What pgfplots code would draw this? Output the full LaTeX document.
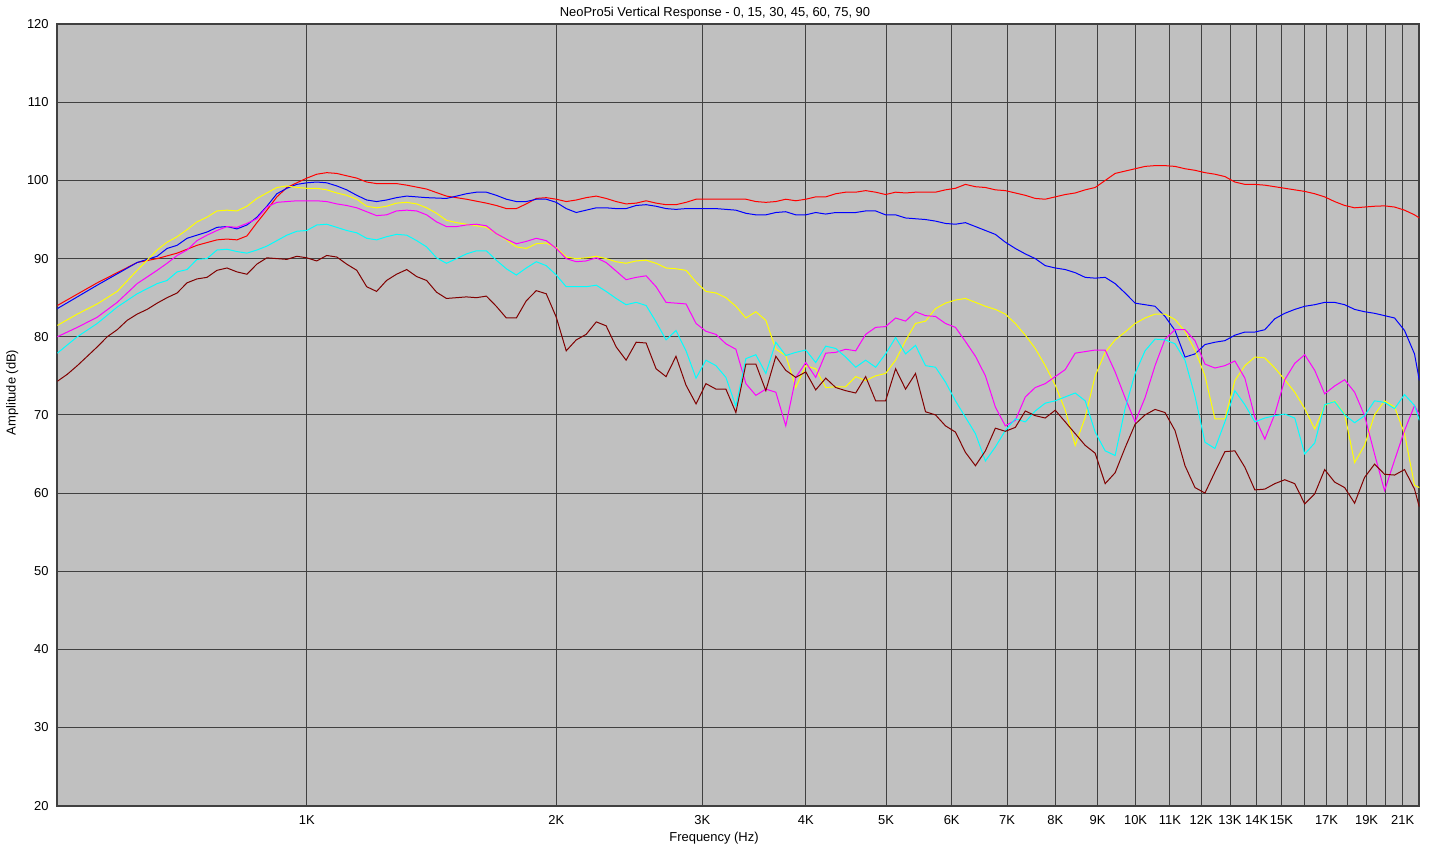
\documentclass[border=0pt]{standalone}
\usepackage{fontspec}
\setmainfont{Liberation Sans}
\usepackage{pgfplots}
\pgfplotsset{compat=1.18}
\definecolor{plotbg}{HTML}{C0C0C0}
\definecolor{gridc}{HTML}{404040}
\definecolor{maroonc}{HTML}{800000}
\definecolor{yel}{HTML}{FFFF00}
\definecolor{mag}{HTML}{FF00FF}
\definecolor{cya}{HTML}{00FFFF}
\definecolor{redc}{HTML}{FF0000}
\definecolor{bluec}{HTML}{0000FF}
\begin{document}
\begin{tikzpicture}[x=1bp,y=1bp]
\useasboundingbox[fill=white] (0,0) rectangle (1430,848);
\begin{axis}[
  at={(57.3bp,42.4bp)}, anchor=south west,
  scale only axis, width=1362bp, height=781.4bp,
  xmode=log, xmin=500, xmax=22000, ymin=20, ymax=120,
  axis background/.style={fill=plotbg},
  axis line style={draw=gridc, line width=2bp},
  xtick={1000,2000,3000,4000,5000,6000,7000,8000,9000,10000,11000,12000,13000,14000,15000,16000,17000,18000,19000,20000,21000},
  xticklabels={1K,2K,3K,4K,5K,6K,7K,8K,9K,10K,11K,12K,13K,14K,15K,,17K,,19K,,21K},
  ytick={20,30,40,50,60,70,80,90,100,110,120},
  minor tick num=0,
  xminorgrids=false,
  grid=major,
  major grid style={draw=gridc, line width=1bp},
  major tick length=0pt,
  /pgf/number format/assume math mode=true,
  tick label style={font=\fontsize{13}{15}\selectfont},
  xticklabel style={anchor=base, inner sep=0pt, yshift=-19bp},
  yticklabel style={anchor=east, inner sep=0pt, xshift=-8.5bp},
  clip=true,
]
% red (0 deg)
\addplot[redc, line width=1bp] coordinates {(500,84.0)(558.6,86.9)(624.2,89.5)(659.8,90.0)(697.4,90.7)(737.1,91.7)(779.2,92.4)(801.1,92.5)(823.6,92.4)(846.7,92.9)(870.6,94.6)(895.0,96.2)(920.2,97.9)(946.1,99.1)(972.7,99.7)(1000,100.3)(1028,100.8)(1057,101.0)(1087,100.9)(1117,100.6)(1149,100.3)(1181,99.8)(1214,99.6)(1248,99.6)(1283,99.6)(1320,99.4)(1395,98.9)(1474,98.0)(1558,97.6)(1647,97.1)(1693,96.8)(1741,96.4)(1790,96.4)(1840,97.0)(1892,97.7)(1945,97.8)(2000,97.6)(2056,97.3)(2114,97.5)(2173,97.8)(2235,98.0)(2297,97.7)(2362,97.3)(2428,97.0)(2497,97.1)(2567,97.4)(2639,97.1)(2713,96.9)(2789,96.9)(2868,97.2)(2949,97.6)(3031,97.6)(3117,97.6)(3204,97.6)(3294,97.6)(3387,97.6)(3482,97.3)(3580,97.2)(3681,97.3)(3784,97.6)(3891,97.4)(4000,97.6)(4112,97.9)(4228,97.9)(4347,98.3)(4469,98.5)(4595,98.5)(4724,98.7)(4857,98.5)(4993,98.2)(5134,98.5)(5278,98.4)(5426,98.5)(5579,98.5)(5736,98.5)(5897,98.8)(6063,99.0)(6233,99.5)(6409,99.2)(6589,99.1)(6774,98.8)(6964,98.7)(7160,98.4)(7362,98.1)(7568,97.7)(7781,97.6)(8000,97.9)(8225,98.2)(8456,98.4)(8694,98.8)(8938,99.1)(9190,100.0)(9448,100.9)(9713,101.2)(9987,101.5)(10267,101.8)(10556,101.9)(10853,101.9)(11158,101.8)(11472,101.5)(11794,101.3)(12126,101.0)(12467,100.8)(12817,100.5)(13178,99.8)(13548,99.5)(13929,99.5)(14320,99.4)(14723,99.2)(15137,99.0)(15563,98.8)(16000,98.6)(16450,98.3)(16912,97.9)(17388,97.3)(17876,96.8)(18379,96.5)(18896,96.6)(19427,96.7)(19973,96.75)(20535,96.6)(21112,96.2)(21706,95.6)(22000,95.2)};
% blue (15 deg)
\addplot[bluec, line width=1bp] coordinates {(500,83.6)(558.6,86.6)(624.2,89.5)(659.8,90.3)(678.3,91.3)(697.4,91.7)(717.0,92.6)(737.1,93.0)(757.9,93.4)(779.2,94.0)(801.1,94.1)(823.6,93.8)(846.7,94.3)(870.6,95.3)(895.0,96.7)(920.2,98.3)(946.1,99.0)(972.7,99.5)(1000,99.7)(1028,99.8)(1057,99.7)(1087,99.3)(1117,98.8)(1149,98.1)(1181,97.5)(1214,97.3)(1248,97.5)(1283,97.8)(1320,98.0)(1395,97.8)(1474,97.7)(1516,98.0)(1558,98.3)(1602,98.5)(1647,98.5)(1693,98.1)(1741,97.6)(1790,97.3)(1840,97.3)(1892,97.6)(1945,97.6)(2000,97.2)(2056,96.4)(2114,95.9)(2173,96.2)(2235,96.5)(2297,96.5)(2362,96.4)(2428,96.4)(2497,96.8)(2567,96.9)(2639,96.7)(2713,96.4)(2789,96.3)(2868,96.4)(2949,96.4)(3031,96.4)(3117,96.4)(3294,96.2)(3387,95.8)(3482,95.6)(3580,95.6)(3681,95.9)(3784,96.0)(3891,95.6)(4000,95.6)(4112,95.9)(4228,95.7)(4347,95.9)(4469,95.9)(4595,95.9)(4724,96.1)(4857,96.1)(4993,95.6)(5134,95.6)(5278,95.2)(5426,95.1)(5579,95.0)(5736,94.8)(5897,94.5)(6063,94.4)(6233,94.6)(6409,94.1)(6589,93.6)(6774,93.1)(6964,92.1)(7160,91.3)(7362,90.6)(7568,90.0)(7781,89.1)(8000,88.8)(8225,88.6)(8456,88.2)(8694,87.6)(8938,87.5)(9190,87.6)(9448,86.8)(9713,85.6)(9987,84.3)(10267,84.1)(10556,83.9)(10853,82.6)(11158,80.8)(11472,77.4)(11794,77.8)(12126,79.0)(12467,79.3)(12817,79.5)(13178,80.2)(13548,80.6)(13929,80.6)(14320,80.9)(14723,82.3)(15137,83.0)(15563,83.5)(16000,83.9)(16450,84.1)(16912,84.4)(17388,84.4)(17876,84.1)(18379,83.5)(18896,83.2)(19427,83.0)(19973,82.7)(20535,82.4)(21112,80.8)(21706,77.8)(22000,74.4)};
% yellow (30 deg)
\addplot[yel, line width=1bp] coordinates {(500,81.45)(528.5,82.9)(558.6,84.2)(590.5,85.8)(624.2,88.5)(659.8,91.1)(678.3,92.1)(697.4,92.8)(717.0,93.7)(737.1,94.7)(757.9,95.3)(779.2,96.1)(801.1,96.2)(823.6,96.1)(846.7,96.7)(870.6,97.7)(895.0,98.4)(920.2,99.1)(946.1,99.3)(972.7,99.1)(1000,99.0)(1028,99.0)(1057,98.8)(1087,98.4)(1117,98.1)(1149,97.6)(1181,96.7)(1214,96.5)(1248,96.7)(1283,97.1)(1320,97.2)(1357,97.0)(1395,96.5)(1434,95.8)(1474,94.9)(1516,94.6)(1558,94.4)(1602,94.2)(1647,94.0)(1693,93.2)(1741,92.4)(1790,91.5)(1840,91.3)(1892,91.9)(1945,92.0)(2000,91.4)(2056,90.2)(2114,90.0)(2173,90.1)(2235,90.3)(2297,90.0)(2362,89.6)(2428,89.4)(2497,89.7)(2567,89.8)(2639,89.4)(2713,88.8)(2789,88.7)(2868,88.5)(2949,87.0)(3031,85.8)(3117,85.6)(3204,85.0)(3294,83.9)(3387,82.4)(3482,83.2)(3580,82.1)(3681,78.4)(3784,77.6)(3891,73.5)(4000,76.3)(4112,75.9)(4228,73.5)(4347,73.6)(4469,73.6)(4595,74.9)(4724,74.4)(4857,75.0)(4993,75.3)(5134,77.0)(5278,79.5)(5426,81.7)(5579,82.0)(5736,83.6)(5897,84.3)(6063,84.7)(6233,84.9)(6409,84.4)(6589,83.9)(6774,83.5)(6964,82.9)(7160,81.7)(7362,80.2)(7568,78.5)(7781,76.3)(8000,73.8)(8225,70.6)(8456,66.1)(8694,69.7)(8938,75.0)(9190,78.0)(9448,79.6)(9713,80.6)(9987,81.7)(10267,82.4)(10556,82.9)(10853,82.9)(11158,82.2)(11472,80.7)(11794,78.3)(12126,75.0)(12467,69.5)(12817,69.5)(13178,74.4)(13548,76.3)(13929,77.4)(14320,77.3)(14723,76.0)(15137,74.5)(15563,72.9)(16000,70.8)(16450,68.2)(16912,71.2)(17388,71.8)(17876,70.1)(18379,63.9)(18896,66.1)(19427,70.0)(19973,71.8)(20535,71.0)(21112,67.6)(21706,61.0)(22000,60.7)};
% magenta (45 deg)
\addplot[mag, line width=1bp] coordinates {(500,80.0)(528.5,81.2)(558.6,82.5)(590.5,84.4)(624.2,86.8)(659.8,88.5)(678.3,89.4)(697.4,90.4)(717.0,91.1)(737.1,92.3)(757.9,93.0)(779.2,93.6)(801.1,94.1)(823.6,94.0)(846.7,94.5)(870.6,95.1)(895.0,96.6)(920.2,97.2)(946.1,97.3)(972.7,97.4)(1000,97.4)(1028,97.4)(1057,97.3)(1087,97.0)(1117,96.8)(1149,96.5)(1181,96.0)(1214,95.5)(1248,95.6)(1283,96.1)(1320,96.2)(1357,96.1)(1395,95.6)(1434,94.7)(1474,94.1)(1516,94.1)(1558,94.3)(1602,94.4)(1647,94.2)(1693,93.2)(1741,92.5)(1790,91.9)(1840,92.2)(1892,92.6)(1945,92.3)(2000,91.3)(2056,90.0)(2114,89.6)(2173,89.7)(2235,90.1)(2297,89.5)(2362,88.4)(2428,87.3)(2497,87.6)(2567,87.8)(2639,86.4)(2713,84.4)(2789,84.3)(2868,84.2)(2949,81.7)(3031,80.7)(3117,80.3)(3204,79.1)(3294,78.4)(3387,74.0)(3482,72.5)(3580,73.3)(3681,72.9)(3784,68.6)(3891,74.8)(4000,76.7)(4112,74.8)(4228,77.9)(4347,78.0)(4469,78.4)(4595,78.2)(4724,80.3)(4857,81.2)(4993,81.3)(5134,82.4)(5278,82.0)(5426,83.2)(5579,82.7)(5736,82.6)(5897,81.7)(6063,81.2)(6233,79.4)(6409,77.5)(6589,75.0)(6774,71.0)(6964,68.6)(7160,69.3)(7362,72.3)(7568,73.5)(7781,74.0)(8000,74.9)(8225,75.8)(8456,77.9)(8694,78.1)(8938,78.3)(9190,78.3)(9448,75.5)(9713,72.2)(9987,69.1)(10267,72.2)(10556,76.3)(10853,79.7)(11158,80.9)(11472,80.9)(11794,79.5)(12126,76.5)(12467,76.0)(12817,76.3)(13178,76.9)(13548,74.7)(13929,69.7)(14320,66.9)(14723,70.1)(15137,74.5)(15563,76.6)(16000,77.7)(16450,75.7)(16912,72.7)(17388,73.7)(17876,74.5)(18379,72.9)(18896,69.9)(19427,65.0)(19973,60.3)(20535,64.2)(21112,68.0)(21706,71.2)(22000,70.0)};
% cyan (60 deg)
\addplot[cya, line width=1bp] coordinates {(500,77.9)(528.5,80.0)(558.6,81.7)(590.5,83.8)(624.2,85.5)(659.8,86.8)(678.3,87.2)(697.4,88.3)(717.0,88.6)(737.1,89.9)(757.9,90.0)(779.2,91.1)(801.1,91.2)(823.6,90.9)(846.7,90.7)(870.6,91.1)(895.0,91.6)(920.2,92.3)(946.1,93.0)(972.7,93.5)(1000,93.6)(1028,94.3)(1057,94.4)(1087,94.0)(1117,93.6)(1149,93.3)(1181,92.6)(1214,92.4)(1248,92.8)(1283,93.1)(1320,93.0)(1357,92.3)(1395,91.5)(1434,90.1)(1474,89.4)(1516,90.0)(1558,90.6)(1602,91.0)(1647,91.0)(1693,89.8)(1741,88.7)(1790,87.9)(1840,88.8)(1892,89.6)(1945,89.1)(2000,87.9)(2056,86.4)(2114,86.4)(2173,86.4)(2235,86.6)(2297,85.8)(2362,84.9)(2428,84.1)(2497,84.4)(2567,84.0)(2639,81.9)(2713,79.6)(2789,80.8)(2868,78.2)(2949,74.7)(3031,77.0)(3117,76.3)(3204,74.8)(3294,71.1)(3387,77.2)(3482,77.7)(3580,75.3)(3681,79.3)(3784,77.6)(3891,78.0)(4000,78.3)(4112,76.7)(4228,78.8)(4347,78.5)(4469,77.4)(4595,76.1)(4724,77.0)(4857,76.1)(4993,77.8)(5134,79.9)(5278,77.8)(5426,78.9)(5579,76.3)(5736,76.1)(5897,74.2)(6063,71.8)(6233,69.7)(6409,67.6)(6589,64.1)(6774,65.9)(6964,68.0)(7160,69.5)(7362,69.1)(7568,70.5)(7781,71.5)(8000,71.8)(8225,72.3)(8456,72.8)(8694,71.8)(8938,67.8)(9190,65.4)(9448,64.8)(9713,70.8)(9987,75.3)(10267,78.2)(10556,79.7)(10853,79.6)(11158,79.1)(11472,77.0)(11794,72.4)(12126,66.5)(12467,65.7)(12817,69.1)(13178,73.1)(13548,71.3)(13929,69.1)(14320,69.6)(14723,69.9)(15137,70.1)(15563,69.6)(16000,65.0)(16450,66.4)(16912,71.3)(17388,71.7)(17876,70.0)(18379,69.0)(18896,69.9)(19427,71.8)(19973,71.6)(20535,70.8)(21112,72.6)(21706,71.2)(22000,69.3)};
% maroon (75 deg)
\addplot[maroonc, line width=1bp] coordinates {(500,74.3)(514.1,75.2)(528.5,76.3)(543.4,77.5)(558.6,78.7)(574.4,80.0)(590.5,80.9)(607.1,82.1)(624.2,82.9)(641.7,83.5)(659.8,84.3)(678.3,85.0)(697.4,85.6)(717.0,86.9)(737.1,87.4)(757.9,87.6)(779.2,88.5)(801.1,88.8)(823.6,88.3)(846.7,88.0)(870.6,89.3)(895.0,90.1)(920.2,90.0)(946.1,89.9)(972.7,90.3)(1000,90.1)(1028,89.7)(1057,90.4)(1087,90.2)(1117,89.3)(1149,88.5)(1181,86.4)(1214,85.8)(1248,87.2)(1283,88.0)(1320,88.6)(1357,87.7)(1395,87.2)(1434,85.7)(1474,84.9)(1516,85.0)(1558,85.1)(1602,85.0)(1647,85.2)(1693,83.9)(1741,82.4)(1790,82.4)(1840,84.6)(1892,85.9)(1945,85.5)(2000,82.5)(2056,78.2)(2114,79.6)(2173,80.3)(2235,81.9)(2297,81.4)(2362,78.7)(2428,77.0)(2497,79.3)(2567,79.2)(2639,75.9)(2713,74.9)(2789,77.5)(2868,73.8)(2949,71.4)(3031,74.0)(3117,73.3)(3204,73.3)(3294,70.3)(3387,76.5)(3482,76.5)(3580,73.1)(3681,77.5)(3784,75.7)(3891,74.8)(4000,75.5)(4112,73.2)(4228,74.7)(4347,73.5)(4469,73.1)(4595,72.8)(4724,74.9)(4857,71.8)(4993,71.8)(5134,75.9)(5278,73.3)(5426,75.3)(5579,70.4)(5736,70.0)(5897,68.6)(6063,67.8)(6233,65.2)(6409,63.5)(6589,65.4)(6774,68.3)(6964,67.9)(7160,68.4)(7362,70.5)(7568,69.9)(7781,69.6)(8000,70.6)(8225,69.1)(8456,67.6)(8694,66.1)(8938,65.1)(9190,61.2)(9448,62.6)(9713,65.8)(9987,68.8)(10267,70.0)(10556,70.7)(10853,70.3)(11158,68.0)(11472,63.5)(11794,60.7)(12126,60.0)(12467,62.7)(12817,65.3)(13178,65.4)(13548,63.3)(13929,60.4)(14320,60.5)(14723,61.2)(15137,61.7)(15563,61.2)(16000,58.6)(16450,59.9)(16912,63.0)(17388,61.4)(17876,60.7)(18379,58.7)(18896,62.0)(19427,63.7)(19973,62.4)(20535,62.3)(21112,63.0)(21706,60.5)(22000,58.2)};
\end{axis}
\node[anchor=base, inner sep=0pt, font=\fontsize{13}{15}\selectfont] at (715,831.3) {NeoPro5i Vertical Response - 0, 15, 30, 45, 60, 75, 90};
\node[anchor=base, inner sep=0pt, font=\fontsize{13}{15}\selectfont] at (714,6.3) {Frequency (Hz)};
\node[anchor=base, inner sep=0pt, rotate=90, font=\fontsize{13}{15}\selectfont] at (15.5,455.5) {Amplitude (dB)};
\end{tikzpicture}
\end{document}
